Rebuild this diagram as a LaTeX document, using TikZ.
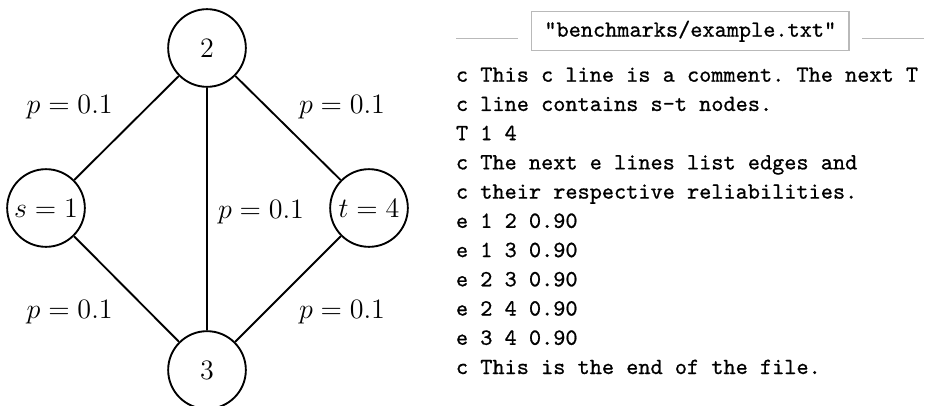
\documentclass[tikz,border=0pt]{standalone}
\usepackage{fontspec}
\setmonofont{Latin Modern Mono}[FakeBold=0.8]
\begin{document}
\begin{tikzpicture}[x=0.4274pt,y=-0.4274pt,
  vertex/.style={draw,circle,line width=0.8pt,minimum size=33.2pt,inner sep=0pt,font=\large},
  edge/.style={line width=0.8pt},
  plabel/.style={font=\large,anchor=base,inner sep=0pt},
  codeline/.style={anchor=base west,inner sep=0pt,font=\fontsize{9.9}{12}\selectfont\ttfamily},
  hrule/.style={draw=gray!55,line width=0.6pt},
  filebox/.style={draw=gray!55,line width=0.6pt,minimum width=135.6pt,minimum height=16.7pt,inner sep=0pt,font=\fontsize{9.9}{12}\selectfont\ttfamily}]
\useasboundingbox (0,0) rectangle (933,405);
% graph
\node[vertex] (n2) at (207,48) {$2$};
\node[vertex] (n1) at (46,208) {$s=1$};
\node[vertex] (n4) at (369,208) {$t=4$};
\node[vertex] (n3) at (207,370) {$3$};
\draw[edge] (n1) -- (n2);
\draw[edge] (n2) -- (n4);
\draw[edge] (n2) -- (n3);
\draw[edge] (n1) -- (n3);
\draw[edge] (n3) -- (n4);
\node[plabel] (p12) at (69.7,113.3) {$p=0.1$};
\node[plabel] (p24) at (342,113.3) {$p=0.1$};
\node[plabel] (p23) at (261,218) {$p=0.1$};
\node[plabel] (p13) at (69.7,318.3) {$p=0.1$};
\node[plabel] (p34) at (342,318.3) {$p=0.1$};
% file header
\node[filebox] (fname) at (690.3,31.2) {"benchmarks/example.txt"};
\coordinate (ra1) at (456,38.3);
\coordinate (ra2) at (517.7,38.3);
\coordinate (rb1) at (862.3,38.3);
\coordinate (rb2) at (924,38.3);
\draw[hrule] (ra1) -- (ra2);
\draw[hrule] (rb1) -- (rb2);
% file contents
\foreach \txt [count=\i] in {
  {c This c line is a comment. The next T},
  {c line contains s-t nodes.},
  {T 1 4},
  {c The next e lines list edges and},
  {c their respective reliabilities.},
  {e 1 2 0.90},
  {e 1 3 0.90},
  {e 2 3 0.90},
  {e 2 4 0.90},
  {e 3 4 0.90},
  {c This is the end of the file.}}
  \node[codeline] (l\i) at (455.5,{81.7+29.23*(\i-1)}) {\txt};
\end{tikzpicture}
\end{document}
